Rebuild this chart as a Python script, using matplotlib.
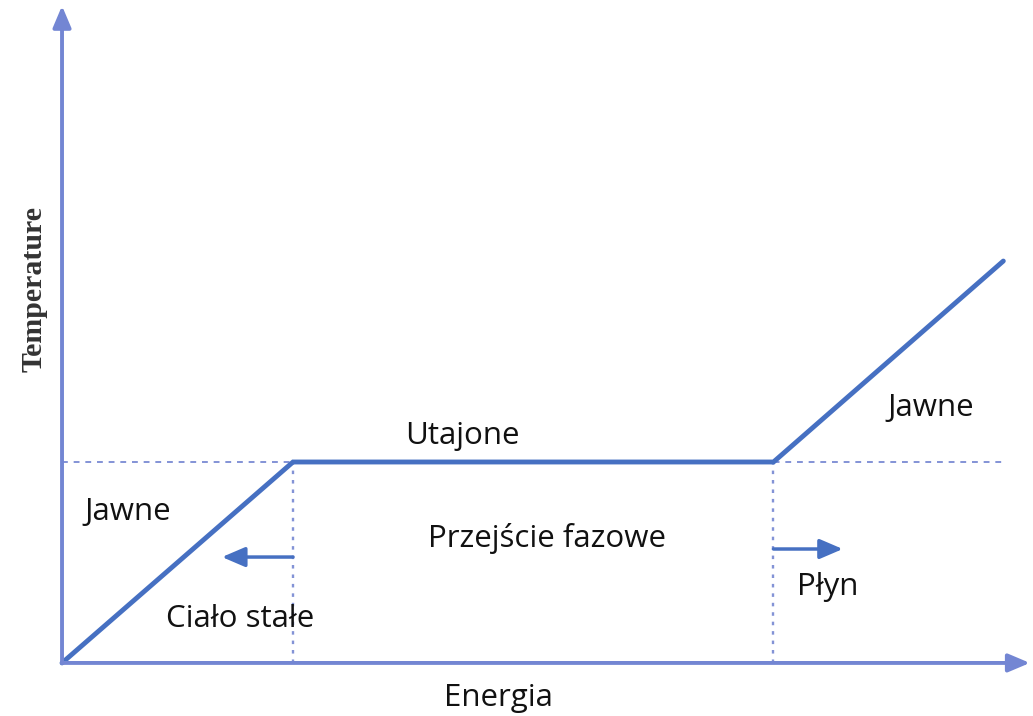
import matplotlib.pyplot as plt

# heating curve data (arbitrary units)
energy = [0.0, 2.0, 6.16, 8.15]
temperature = [0.0, 1.0, 1.0, 2.0]
melt_start, melt_end = energy[1], energy[2]
t_melt = temperature[1]

labels = {
    "Utajone": (3.47, 1.13),
    "Jawne_l": (0.57, 0.75),
    "Jawne_r": (7.52, 1.27),
    "Przejście fazowe": (4.2, 0.62),
    "Ciało stałe": (1.54, 0.22),
    "Płyn": (6.63, 0.38),
}

line_c = "#4670c2"
axis_c = "#7386d3"
dash_c = "#8393d6"

fig = plt.figure(figsize=(10.33, 7.16), dpi=100)
ax = fig.add_axes([0, 0, 1, 1])
ax.set_xlim(-0.537, 8.407)
ax.set_ylim(-0.264, 3.299)
ax.axis("off")

# axes with arrows
big_head = "-|>,head_length=1.3,head_width=0.55"
ax.annotate("", xy=(8.38, 0), xytext=(0, 0),
            arrowprops=dict(arrowstyle=big_head, color=axis_c, lw=2.8,
                            shrinkA=0, shrinkB=0))
ax.annotate("", xy=(0, 3.27), xytext=(0, 0),
            arrowprops=dict(arrowstyle=big_head, color=axis_c, lw=2.8,
                            shrinkA=0, shrinkB=0))

# guide lines
ax.plot([0, energy[-1]], [t_melt, t_melt], color=dash_c, lw=1.4,
        dashes=(3, 3))
for e in (melt_start, melt_end):
    ax.plot([e, e], [0, t_melt], color=dash_c, lw=1.7, dashes=(1.5, 2.5))

# curve
ax.plot(energy, temperature, color=line_c, lw=3.5, solid_capstyle="round",
        solid_joinstyle="miter")

# small direction arrows
small_head = "-|>,head_length=1.4,head_width=0.6"
ax.annotate("", xy=(1.385, 0.527), xytext=(melt_start, 0.527),
            arrowprops=dict(arrowstyle=small_head, color=line_c, lw=2.5,
                            shrinkA=0, shrinkB=0))
ax.annotate("", xy=(6.76, 0.567), xytext=(melt_end, 0.567),
            arrowprops=dict(arrowstyle=small_head, color=line_c, lw=2.5,
                            shrinkA=0, shrinkB=0))

font = dict(family="Open Sans", fontsize=22.5, color="#111111",
            ha="center", va="center")
for key, (x, y) in labels.items():
    ax.text(x, y, key.split("_")[0], **font)

ax.text(3.78, -0.175, "Energia", **font)
ax.text(-0.24, 1.86, "Temperature", family="Liberation Serif",
        fontweight="bold", fontsize=21.5, color="#333333", rotation=90,
        ha="center", va="center")

fig.savefig("out.png", dpi=100)
